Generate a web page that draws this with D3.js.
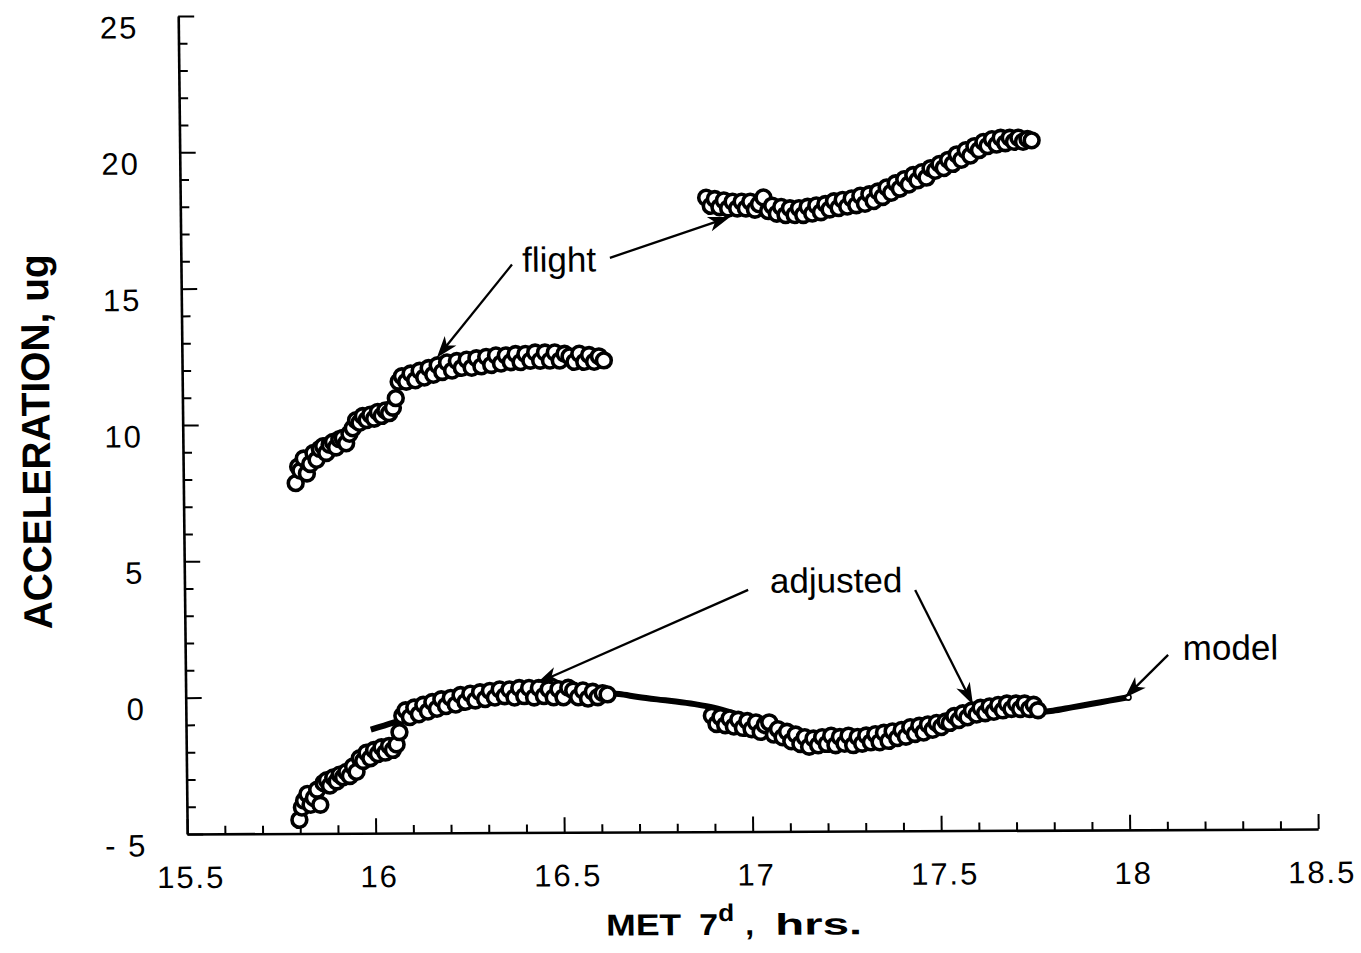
<!DOCTYPE html>
<html>
<head>
<meta charset="utf-8">
<script src="https://cdn.jsdelivr.net/npm/d3@7"></script>
<style>
    html, body { margin: 0; padding: 0; background: #fff; }
    svg { display: block; }
</style>
</head>
<body>
<div class="svg-container"></div>
<script>
// Data (hours after 7 days MET, acceleration in ug)
const timeA = [15.798, 15.805, 15.811, 15.820, 15.828, 15.837, 15.846, 15.854, 15.863, 15.872,
    15.880, 15.889, 15.898, 15.906, 15.915, 15.924, 15.933, 15.942, 15.951, 15.960,
    15.969, 15.978, 15.988, 15.998, 16.008, 16.018, 16.028, 16.038, 16.048, 16.058,
    16.066, 16.074, 16.083, 16.094, 16.106, 16.118, 16.130, 16.142, 16.154, 16.166,
    16.178, 16.190, 16.203, 16.216, 16.229, 16.242, 16.255, 16.268, 16.281, 16.294,
    16.307, 16.320, 16.333, 16.346, 16.359, 16.372, 16.385, 16.398, 16.411, 16.424,
    16.437, 16.450, 16.463, 16.476, 16.489, 16.502, 16.515, 16.528, 16.541, 16.554,
    16.567, 16.580, 16.593, 16.606, 16.619];
const flightA = [7.85, 8.45, 8.30, 8.75, 8.20, 8.55, 8.95, 8.70, 9.10, 9.20,
    8.95, 9.25, 9.35, 9.15, 9.45, 9.50, 9.30, 9.65, 9.85, 10.15,
    10.05, 10.30, 10.15, 10.35, 10.20, 10.45, 10.30, 10.50, 10.40, 10.60,
    10.95, 11.55, 11.75, 11.55, 11.85, 11.60, 11.95, 11.70, 12.05, 11.80,
    12.15, 11.90, 12.25, 11.95, 12.30, 12.05, 12.35, 12.05, 12.40, 12.10,
    12.45, 12.15, 12.50, 12.20, 12.50, 12.25, 12.55, 12.25, 12.55, 12.30,
    12.60, 12.30, 12.60, 12.30, 12.60, 12.30, 12.55, 12.45, 12.25, 12.55,
    12.25, 12.50, 12.25, 12.45, 12.30];
const adjustedA = [-4.50, -4.05, -3.80, -3.55, -3.95, -3.70, -3.40, -3.95, -3.15, -3.05,
    -3.25, -2.95, -3.10, -2.85, -2.95, -2.75, -2.90, -2.55, -2.75, -2.25,
    -2.35, -2.05, -2.25, -1.95, -2.10, -1.85, -2.05, -1.80, -1.95, -1.75,
    -1.30, -0.70, -0.50, -0.75, -0.40, -0.65, -0.30, -0.55, -0.20, -0.45,
    -0.10, -0.35, -0.05, -0.30, 0.05, -0.20, 0.10, -0.15, 0.15, -0.10,
    0.20, -0.05, 0.25, 0.00, 0.25, -0.05, 0.30, 0.00, 0.30, -0.05,
    0.30, 0.00, 0.25, -0.05, 0.25, -0.05, 0.30, 0.20, -0.05, 0.20,
    -0.10, 0.15, -0.05, 0.10, 0.05];

const timeB = [16.895, 16.907, 16.918, 16.930, 16.942, 16.953, 16.965, 16.977, 16.989, 17.000,
    17.012, 17.024, 17.035, 17.047, 17.059, 17.070, 17.082, 17.094, 17.105, 17.117,
    17.129, 17.141, 17.152, 17.164, 17.176, 17.187, 17.199, 17.211, 17.222, 17.234,
    17.246, 17.257, 17.269, 17.281, 17.293, 17.304, 17.316, 17.328, 17.339, 17.351,
    17.363, 17.374, 17.386, 17.398, 17.409, 17.421, 17.433, 17.445, 17.456, 17.468,
    17.480, 17.491, 17.503, 17.515, 17.526, 17.538, 17.550, 17.561, 17.573, 17.585,
    17.597, 17.608, 17.620, 17.632, 17.643, 17.655, 17.667, 17.678, 17.690, 17.702,
    17.713, 17.725, 17.737, 17.749, 17.760];
const flightB = [18.25, 17.95, 18.20, 17.90, 18.15, 17.85, 18.10, 17.85, 18.10, 17.85,
    18.10, 17.80, 18.00, 18.25, 17.75, 17.95, 17.65, 17.90, 17.60, 17.85,
    17.60, 17.85, 17.60, 17.90, 17.65, 17.95, 17.70, 18.00, 17.80, 18.10,
    17.85, 18.15, 17.90, 18.20, 17.95, 18.30, 18.00, 18.35, 18.10, 18.45,
    18.25, 18.60, 18.40, 18.75, 18.55, 18.90, 18.70, 19.05, 18.85, 19.15,
    18.95, 19.30, 19.20, 19.45, 19.30, 19.60, 19.45, 19.80, 19.60, 19.95,
    19.75, 20.10, 19.95, 20.25, 20.10, 20.35, 20.15, 20.40, 20.20, 20.40,
    20.25, 20.40, 20.25, 20.35, 20.30];
const adjustedB = [-0.75, -1.05, -0.80, -1.10, -0.85, -1.15, -0.90, -1.20, -0.95, -1.25,
    -1.00, -1.35, -1.10, -1.00, -1.45, -1.25, -1.55, -1.35, -1.70, -1.45,
    -1.80, -1.55, -1.90, -1.60, -1.85, -1.55, -1.80, -1.50, -1.85, -1.55,
    -1.80, -1.50, -1.85, -1.55, -1.80, -1.50, -1.75, -1.45, -1.75, -1.40,
    -1.70, -1.35, -1.60, -1.30, -1.55, -1.20, -1.45, -1.15, -1.40, -1.10,
    -1.30, -1.05, -1.20, -1.00, -1.05, -0.80, -0.95, -0.70, -0.85, -0.60,
    -0.75, -0.50, -0.70, -0.45, -0.65, -0.40, -0.60, -0.35, -0.55, -0.35,
    -0.55, -0.35, -0.55, -0.40, -0.60];

const modelTime = [15.99, 16.05, 16.10, 16.15, 16.20, 16.25, 16.30, 16.35, 16.40, 16.45,
    16.50, 16.55, 16.60, 16.65, 16.70, 16.75, 16.80, 16.85, 16.90, 16.95,
    17.00, 17.05, 17.10, 17.15, 17.20, 17.25, 17.30, 17.35, 17.40, 17.45,
    17.50, 17.55, 17.60, 17.65, 17.70, 17.75, 17.80, 17.85, 17.90, 17.95, 18.00];
const modelAccel = [-1.20, -0.95, -0.70, -0.50, -0.32, -0.17, -0.05, 0.04, 0.10, 0.14,
    0.15, 0.15, 0.12, 0.06, -0.05, -0.14, -0.22, -0.32, -0.45, -0.65,
    -0.90, -1.15, -1.38, -1.55, -1.65, -1.66, -1.60, -1.48, -1.30, -1.10,
    -0.88, -0.74, -0.68, -0.66, -0.66, -0.67, -0.62, -0.50, -0.38, -0.26, -0.14];

const xTickValues = [15.5, 16, 16.5, 17, 17.5, 18, 18.5];
const xTickLabels = ['15.5', '16', '16.5', '17', '17.5', '18', '18.5'];
const yTickValues = [-5, 0, 5, 10, 15, 20, 25];
const yTickLabels = ['- 5', '0', '5', '10', '15', '20', '25'];

// Annotations, in data units
const noteLabels = ['flight', 'adjusted', 'model'];
const noteAt = [[16.405, 15.56], [17.053, 3.75], [18.146, 1.22]];
const arrowFrom = [[16.378, 15.83], [16.638, 16.06], [16.995, 3.86], [17.438, 3.83], [18.107, 1.41]];
const arrowTo = [[16.176, 12.42], [16.958, 17.54], [16.432, 0.48], [17.588, -0.39], [17.991, -0.16]];

/**
 * Acceleration chart
 *          flight / adjusted samples with the model curve
 */
const accelChart = (() => {
    // Constant
    const SCREEN = { WIDTH: 1361, HEIGHT: 953 };
    const PLOT = { LEFT: 183, RIGHT: 1314, TOP: 13.7, BOTTOM: 831.7 };
    const FONT = '"Liberation Sans", Arial, Helvetica, sans-serif';

    const x = d3.scaleLinear().domain([15.5, 18.5]).range([PLOT.LEFT, PLOT.RIGHT]);
    const y = d3.scaleLinear().domain([-5, 25]).range([PLOT.BOTTOM, PLOT.TOP]);

    /**
     * Init SVG
     * @return {Object} root group (the scan is a little sheared, so is this)
     */
    const initSVG = () => {
        let svg = d3.select('.svg-container').append('svg')
                    .attr('width', SCREEN.WIDTH)
                    .attr('height', SCREEN.HEIGHT)
                    .style('background', '#fff');

        return svg.append('g')
                  .attr('transform', 'matrix(1,-0.0044,0.011,1,-4.95,3.08)')
                  .attr('font-family', FONT);
    };

    const styleAxis = (g, width) => {
        g.select('.domain').attr('stroke', '#000').attr('stroke-width', width);
        g.selectAll('.tick line').attr('stroke', '#000').attr('stroke-width', 2);
    };

    /**
     * Axes with inward major and minor ticks
     */
    const drawAxes = (g) => {
        let xMinor = d3.range(156, 185).filter(d => d % 5 !== 0).map(d => d / 10);
        let yMinor = d3.range(-4, 25).filter(d => d % 5 !== 0);

        let xMinorAxis = g.append('g').attr('transform', `translate(0, ${PLOT.BOTTOM})`)
            .call(d3.axisBottom(x).tickValues(xMinor).tickSize(-8).tickFormat(''));
        xMinorAxis.select('.domain').remove();
        styleAxis(xMinorAxis, 0);

        let yMinorAxis = g.append('g').attr('transform', `translate(${PLOT.LEFT}, 0)`)
            .call(d3.axisLeft(y).tickValues(yMinor).tickSize(-9).tickFormat(''));
        yMinorAxis.select('.domain').remove();
        styleAxis(yMinorAxis, 0);

        let xAxis = g.append('g').attr('transform', `translate(0, ${PLOT.BOTTOM})`)
            .call(d3.axisBottom(x).tickValues(xTickValues).tickSize(-15).tickSizeOuter(0)
                .tickPadding(32).tickFormat((d, i) => xTickLabels[i]));
        styleAxis(xAxis, 2.6);
        xAxis.selectAll('text')
             .attr('font-size', 31).attr('font-family', FONT).attr('fill', '#000')
             .attr('letter-spacing', 2).attr('dx', 3);

        let yAxis = g.append('g').attr('transform', `translate(${PLOT.LEFT}, 0)`)
            .call(d3.axisLeft(y).tickValues(yTickValues).tickSize(-16).tickSizeOuter(0)
                .tickPadding(40).tickFormat((d, i) => yTickLabels[i]));
        styleAxis(yAxis, 2.6);
        yAxis.selectAll('text')
             .attr('font-size', 31).attr('font-family', FONT).attr('fill', '#000')
             .attr('letter-spacing', 2).attr('dy', '0.7em');
    };

    /**
     * Axis titles
     */
    const drawTitles = (g) => {
        g.append('text')
         .attr('transform', 'translate(50, 439) rotate(-90)')
         .attr('text-anchor', 'middle')
         .attr('font-size', 40).attr('font-weight', 'bold')
         .attr('textLength', 375).attr('lengthAdjust', 'spacingAndGlyphs')
         .text('ACCELERATION, ug');

        // MET 7^d , hrs.
        let pieces = [
            { t: 'MET', x: 601, y: 935, size: 30, len: 75 },
            { t: '7', x: 694, y: 935, size: 30, len: 19 },
            { t: 'd', x: 713, y: 921, size: 24, len: 16 },
            { t: ',', x: 740, y: 935, size: 30, len: 9 },
            { t: 'hrs.', x: 770, y: 935, size: 30, len: 87 }
        ];
        g.selectAll('.x-title')
         .data(pieces)
         .enter()
         .append('text')
         .attr('class', 'x-title')
         .attr('x', d => d.x).attr('y', d => d.y)
         .attr('font-size', d => d.size).attr('font-weight', 'bold')
         .attr('textLength', d => d.len).attr('lengthAdjust', 'spacingAndGlyphs')
         .text(d => d.t);
    };

    /**
     * Model curve (under the markers)
     */
    const drawModel = (g) => {
        let pts = d3.zip(modelTime, modelAccel);
        let line = d3.line().x(d => x(d[0])).y(d => y(d[1])).curve(d3.curveCatmullRom);

        g.append('path')
         .attr('d', line(pts))
         .attr('fill', 'none')
         .attr('stroke', '#000')
         .attr('stroke-width', 6);

        let last = pts[pts.length - 1];
        g.append('circle')
         .attr('cx', x(last[0])).attr('cy', y(last[1]))
         .attr('r', 2.8)
         .attr('fill', '#fff').attr('stroke', '#000').attr('stroke-width', 1.6);
    };

    /**
     * Open circle samples
     */
    const drawSamples = (g, times, values) => {
        g.append('g')
         .selectAll('circle')
         .data(d3.zip(times, values))
         .enter()
         .append('circle')
         .attr('cx', d => x(d[0]))
         .attr('cy', d => y(d[1]))
         .attr('r', 7.4)
         .attr('fill', '#fff')
         .attr('stroke', '#000')
         .attr('stroke-width', 3.6);
    };

    /**
     * Labels and arrows
     */
    const drawNotes = (g) => {
        g.selectAll('.note')
         .data(noteLabels)
         .enter()
         .append('text')
         .attr('class', 'note')
         .attr('x', (d, i) => x(noteAt[i][0]))
         .attr('y', (d, i) => y(noteAt[i][1]))
         .attr('font-size', 35)
         .attr('fill', '#000')
         .text(d => d);

        let arrows = d3.zip(arrowFrom, arrowTo).map(([a, b]) => {
            let x1 = x(a[0]), y1 = y(a[1]), x2 = x(b[0]), y2 = y(b[1]);
            return { x1, y1, x2, y2, angle: Math.atan2(y2 - y1, x2 - x1) };
        });

        let arrowGroup = g.append('g');
        arrowGroup.selectAll('line')
                  .data(arrows)
                  .enter()
                  .append('line')
                  .attr('x1', d => d.x1).attr('y1', d => d.y1)
                  .attr('x2', d => d.x2 - 12 * Math.cos(d.angle))
                  .attr('y2', d => d.y2 - 12 * Math.sin(d.angle))
                  .attr('stroke', '#000')
                  .attr('stroke-width', 2.3);

        arrowGroup.selectAll('path')
                  .data(arrows)
                  .enter()
                  .append('path')
                  .attr('d', 'M0,0L-22,-7.5L-16,0L-22,7.5Z')
                  .attr('transform', d => `translate(${d.x2}, ${d.y2}) rotate(${d.angle * 180 / Math.PI})`)
                  .attr('fill', '#000');
    };

    const init = () => {
        let g = initSVG();
        drawAxes(g);
        drawTitles(g);
        drawModel(g);
        drawSamples(g, timeA, flightA);
        drawSamples(g, timeB, flightB);
        drawSamples(g, timeA, adjustedA);
        drawSamples(g, timeB, adjustedB);
        drawNotes(g);
    };

    return {
        init: init
    }
})();

accelChart.init();
</script>
</body>
</html>
